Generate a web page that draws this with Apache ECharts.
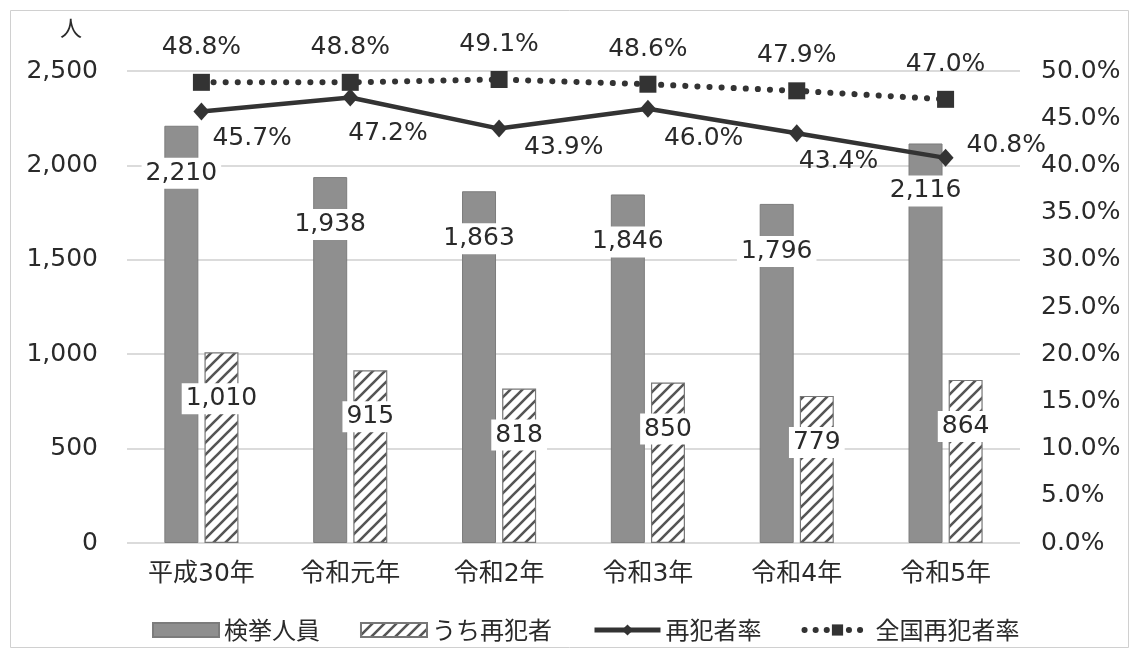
<!DOCTYPE html>
<html><head><meta charset="utf-8">
<script src="https://cdn.jsdelivr.net/npm/echarts@6/dist/echarts.min.js"></script>
<style>html,body{margin:0;padding:0;background:#fff}#c{width:1139px;height:658px}</style>
</head><body><div id="c"></div>
<script>
const categories = ['平成30年', '令和元年', '令和2年', '令和3年', '令和4年', '令和5年'];
const arrestees = [2210, 1938, 1863, 1846, 1796, 2116];
const repeatOffenders = [1010, 915, 818, 850, 779, 864];
const repeatRate = [45.7, 47.2, 43.9, 46.0, 43.4, 40.8];
const nationalRate = [48.8, 48.8, 49.1, 48.6, 47.9, 47.0];
const seriesNames = ['検挙人員', 'うち再犯者', '再犯者率', '全国再犯者率'];

// label offsets (style only)
const rateLabelOffsets = [[-2, 27], [-15, 36], [12, 19], [3, 30], [-11, 28], [8, -12]];

const FONT = '"DejaVu Sans", "Noto Sans CJK JP", sans-serif';
const TXT = '#2a2a2a';
const FS = 25;

function hatch() {
  const s = 12, c = document.createElement('canvas');
  c.width = c.height = s;
  const g = c.getContext('2d');
  g.fillStyle = '#fff'; g.fillRect(0, 0, s, s);
  g.strokeStyle = '#555'; g.lineWidth = 2.6;
  g.beginPath();
  g.moveTo(0, s); g.lineTo(s, 0);
  g.moveTo(-s / 2, s / 2); g.lineTo(s / 2, -s / 2);
  g.moveTo(s / 2, s * 1.5); g.lineTo(s * 1.5, s / 2);
  g.stroke();
  return c;
}

const chart = echarts.init(document.getElementById('c'), null, { renderer: 'canvas' });
chart.setOption({
  backgroundColor: '#fff',
  animation: false,
  textStyle: { fontFamily: FONT, color: TXT },
  title: { text: '人', left: 55, top: 12, textStyle: { fontFamily: '"Noto Sans CJK JP"', fontSize: 22, fontWeight: 'normal', color: TXT } },
  graphic: [{
    type: 'rect', shape: { x: 10.5, y: 10.5, width: 1118, height: 637 },
    style: { fill: 'none', stroke: '#d0d0d0', lineWidth: 1 }, silent: true, z: -10
  }],
  grid: { left: 127, right: 119, top: 71, bottom: 115, containLabel: false },
  legend: {
    left: 147, top: 613, itemWidth: 66, itemHeight: 14, itemGap: 40,
    textStyle: { fontFamily: '"Noto Sans CJK JP", sans-serif', fontSize: 24, color: TXT },
    data: [
      { name: seriesNames[0], icon: 'rect' },
      { name: seriesNames[1], icon: 'rect' },
      { name: seriesNames[2], lineStyle: { width: 5, color: '#333' } },
      { name: seriesNames[3], lineStyle: { width: 6, color: '#333', type: [0.1, 11], cap: 'round' } }
    ]
  },
  xAxis: {
    type: 'category', data: categories,
    axisLine: { show: false }, axisTick: { show: false },
    axisLabel: { fontSize: 25, color: TXT, margin: 19, fontFamily: FONT }
  },
  yAxis: [{
    type: 'value', min: 0, max: 2500, interval: 500,
    axisLine: { show: false }, axisTick: { show: false },
    axisLabel: { fontSize: FS, color: TXT, margin: 29, fontFamily: FONT, formatter: v => v.toLocaleString('en-US') },
    splitLine: { lineStyle: { color: '#cfcfcf', width: 1.5 } }
  }, {
    type: 'value', min: 0, max: 50, interval: 5,
    axisLine: { show: false }, axisTick: { show: false }, splitLine: { show: false },
    axisLabel: { fontSize: FS, color: TXT, margin: 21, fontFamily: FONT, formatter: v => v.toFixed(1) + '%' }
  }],
  series: [{
    name: seriesNames[0], type: 'bar', data: arrestees, barWidth: 34, barGap: '18%',
    itemStyle: { color: '#8f8f8f', borderColor: '#7c7c7c', borderWidth: 1 },
    label: {
      show: true, position: 'insideTop', distance: 32, fontSize: FS, color: TXT, fontFamily: FONT,
      backgroundColor: '#fff', padding: [3, 4], formatter: p => p.value.toLocaleString('en-US')
    }
  }, {
    name: seriesNames[1], type: 'bar', data: repeatOffenders, barWidth: 34,
    itemStyle: { color: { image: hatch(), repetition: 'repeat' }, borderColor: '#777', borderWidth: 1.2 },
    label: {
      show: true, position: 'insideTop', distance: 31, fontSize: FS, color: TXT, fontFamily: FONT,
      backgroundColor: '#fff', padding: [3, 4], formatter: p => p.value.toLocaleString('en-US')
    }
  }, {
    name: seriesNames[2], type: 'line', yAxisIndex: 1,
    data: repeatRate.map((v, i) => ({ value: v, label: { offset: rateLabelOffsets[i] } })),
    symbol: 'diamond', symbolSize: [16, 18],
    lineStyle: { color: '#333', width: 4.5 }, itemStyle: { color: '#333' },
    label: { show: true, position: 'right', distance: 5, fontSize: FS, color: TXT, fontFamily: FONT, formatter: p => p.value.toFixed(1) + '%' },
    z: 5
  }, {
    name: seriesNames[3], type: 'line', yAxisIndex: 1, data: nationalRate,
    symbol: 'rect', symbolSize: 17,
    lineStyle: { color: '#333', width: 6, type: [0.1, 12], cap: 'round' }, itemStyle: { color: '#333' },
    label: { show: true, position: 'top', distance: 14, fontSize: FS, color: TXT, fontFamily: FONT, formatter: p => p.value.toFixed(1) + '%' },
    z: 5
  }]
});
</script>
</body></html>
